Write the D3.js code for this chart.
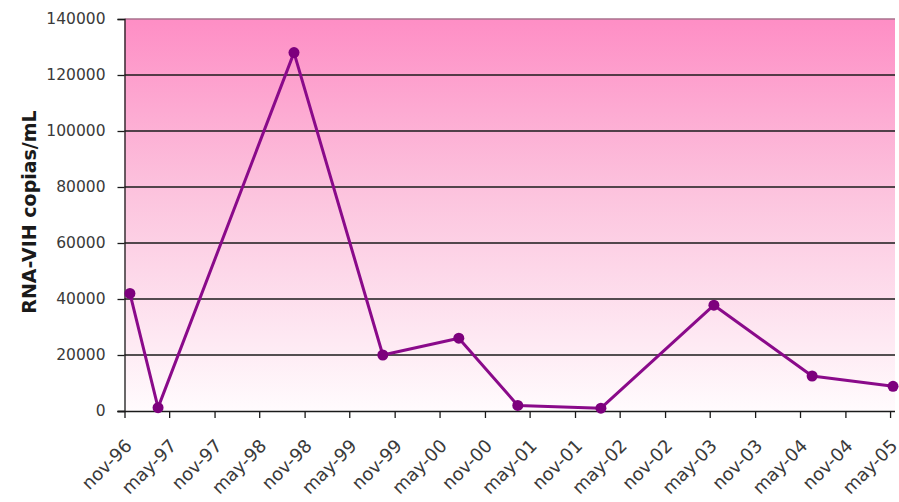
<!DOCTYPE html>
<html>
<head>
<meta charset="utf-8">
<script src="https://cdn.jsdelivr.net/npm/d3@7"></script>
<style>
  html, body { margin: 0; padding: 0; background: #ffffff; }
  svg { display: block; }
</style>
</head>
<body>
<div id="chart"></div>
<script>
// ---- data ----
const sampleDates = ["1996-11-23", "1997-03-17", "1998-09-19", "1999-09-14", "2000-07-18",
                     "2001-03-14", "2002-02-14", "2003-05-18", "2004-06-19", "2005-05-13"];
const viralLoad = [42000, 1200, 128000, 20000, 26000, 2000, 1000, 37800, 12500, 8800];
const xTickLabels = ["nov-96", "may-97", "nov-97", "may-98", "nov-98", "may-99", "nov-99",
                     "may-00", "nov-00", "may-01", "nov-01", "may-02", "nov-02", "may-03",
                     "nov-03", "may-04", "nov-04", "may-05"];
const yTickValues = [0, 20000, 40000, 60000, 80000, 100000, 120000, 140000];
const yTitle = "RNA-VIH copias/mL";

// ---- layout ----
const W = 899, H = 502;
const plot = { left: 124.5, right: 895, top: 19, bottom: 411 };
const parse = d3.timeParse("%Y-%m-%d");
const axisStart = new Date(1996, 10, 1);
const axisEnd = new Date(2005, 4, 21);

const x = d3.scaleTime().domain([axisStart, axisEnd]).range([plot.left, plot.right]);
const y = d3.scaleLinear().domain([0, 140000]).range([plot.bottom, plot.top]);

const svg = d3.select("#chart").append("svg").attr("width", W).attr("height", H);

const defs = svg.append("defs");
const grad = defs.append("linearGradient").attr("id", "bg").attr("x1", 0).attr("y1", 0).attr("x2", 0).attr("y2", 1);
grad.append("stop").attr("offset", "0%").attr("stop-color", "#fe8ec5");
grad.append("stop").attr("offset", "45%").attr("stop-color", "#fcc4de");
grad.append("stop").attr("offset", "100%").attr("stop-color", "#fffbfd");

svg.append("rect")
  .attr("x", plot.left).attr("y", plot.top)
  .attr("width", plot.right - plot.left).attr("height", plot.bottom - plot.top)
  .attr("fill", "url(#bg)");

// gridlines
svg.append("g").selectAll("line")
  .data(yTickValues.filter(v => v > 0))
  .join("line")
  .attr("x1", plot.left).attr("x2", plot.right)
  .attr("y1", d => y(d)).attr("y2", d => y(d))
  .attr("stroke", d => d === 140000 ? "#a9708c" : "#1a1a1a")
  .attr("stroke-width", 1.3);

// y axis
const yAxis = d3.axisLeft(y).tickValues(yTickValues).tickSize(7).tickPadding(12).tickFormat(d3.format("d"));
const gy = svg.append("g").attr("transform", `translate(${plot.left},0)`).call(yAxis);
gy.select(".domain").attr("stroke", "#1a1a1a").attr("stroke-width", 1.3);
gy.selectAll(".tick line").attr("stroke", "#1a1a1a").attr("stroke-width", 1.3);
gy.selectAll(".tick text")
  .attr("font-family", "DejaVu Sans, sans-serif")
  .attr("font-size", 15.5)
  .attr("fill", "#3a3a3a");

// x axis
const tickDates = xTickLabels.map((_, i) => d3.timeMonth.offset(axisStart, 6 * i));
const xAxis = d3.axisBottom(x).tickValues(tickDates).tickSize(7).tickFormat((d, i) => xTickLabels[i]);
const gx = svg.append("g").attr("transform", `translate(0,${plot.bottom})`).call(xAxis);
gx.select(".domain").attr("d", `M${plot.left - 7},0.5H${plot.right}`).attr("stroke", "#1a1a1a").attr("stroke-width", 1.3);
gx.selectAll(".tick line").attr("stroke", "#1a1a1a").attr("stroke-width", 1.3);
gx.selectAll(".tick text")
  .attr("font-family", "DejaVu Sans, sans-serif")
  .attr("font-size", 18)
  .attr("fill", "#3a3a3a")
  .attr("text-anchor", "end")
  .attr("dy", null)
  .attr("y", null)
  .attr("transform", "translate(8,36) rotate(-45)");

// y title
svg.append("text")
  .attr("transform", `translate(36,212) rotate(-90)`)
  .attr("text-anchor", "middle")
  .attr("font-family", "DejaVu Sans, sans-serif")
  .attr("font-weight", "bold")
  .attr("font-size", 19)
  .attr("fill", "#1a1a1a")
  .text(yTitle);

// line
const pts = sampleDates.map((d, i) => ({ date: parse(d), value: viralLoad[i] }));
const line = d3.line().x(d => x(d.date)).y(d => y(d.value));
svg.append("path")
  .datum(pts)
  .attr("d", line)
  .attr("fill", "none")
  .attr("stroke", "#8a0a8a")
  .attr("stroke-width", 3)
  .attr("stroke-linejoin", "round");

svg.append("g").selectAll("circle")
  .data(pts)
  .join("circle")
  .attr("cx", d => x(d.date))
  .attr("cy", d => y(d.value))
  .attr("r", 5.5)
  .attr("fill", "#7d007d");
</script>
</body>
</html>
